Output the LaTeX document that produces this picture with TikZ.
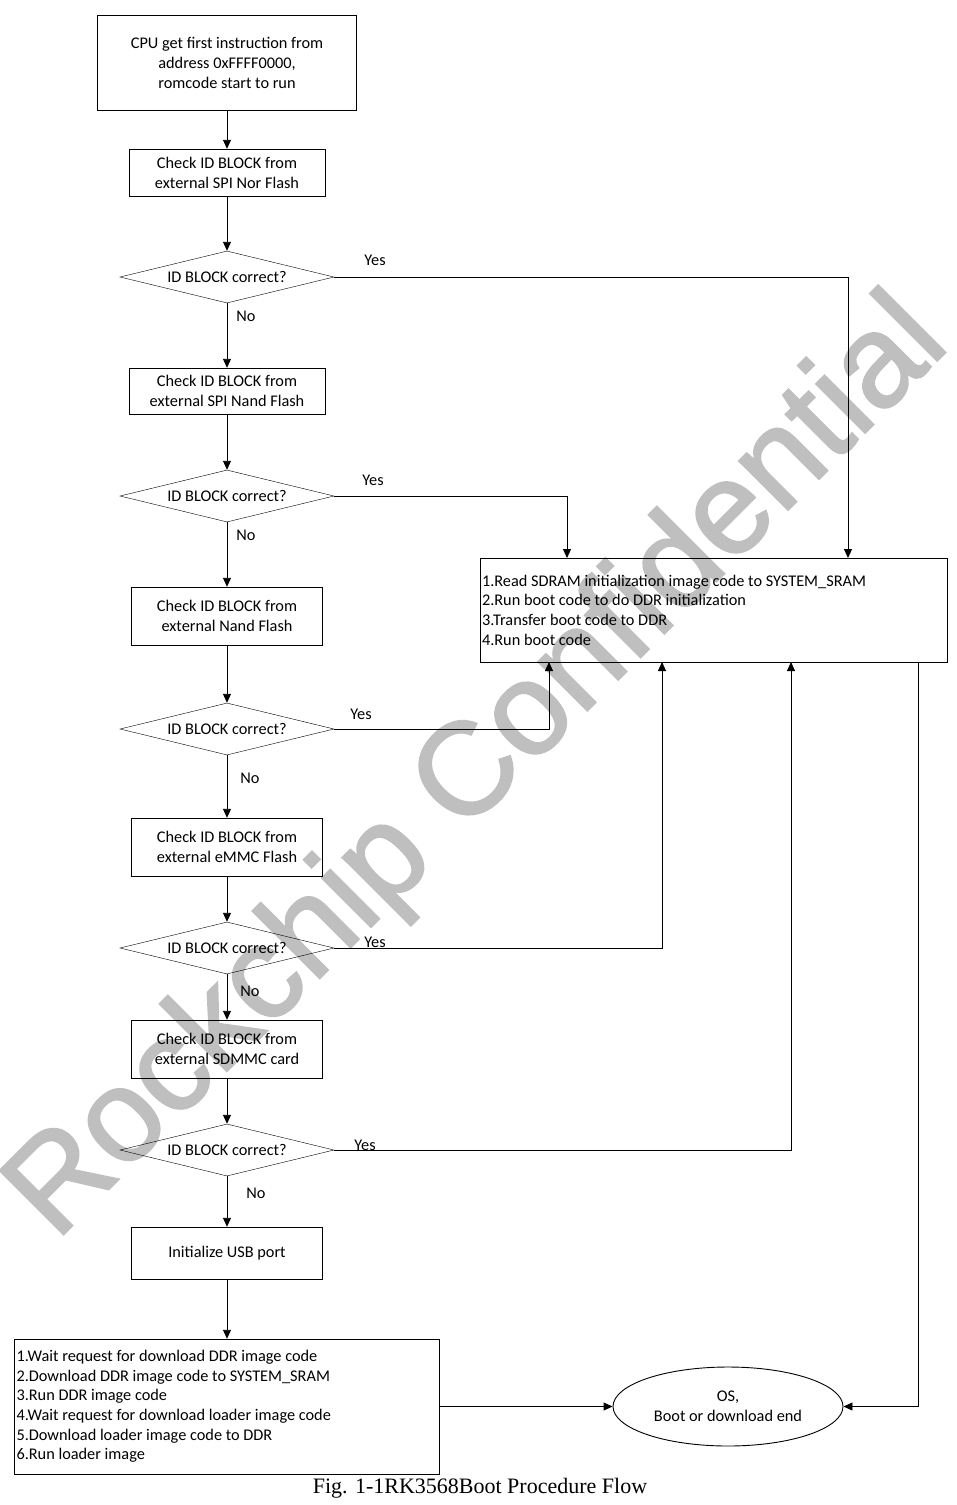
\documentclass[tikz,border=0pt]{standalone}
\usepackage{fontspec}
\setmainfont{Carlito}
\newfontfamily\markfont[FakeBold=1.6]{Liberation Sans}
\newfontfamily\capfont{Liberation Serif}
\usetikzlibrary{shapes.geometric,arrows.meta}

\tikzset{
  stepbox/.style={draw, rectangle, inner sep=0pt, minimum width=191pt, minimum height=58pt,
    align=flush center, font=\fontsize{16.3}{20}\selectfont},
  check/.style={draw, diamond, shape aspect=4, inner sep=0pt, minimum width=214pt,
    minimum height=52pt, font=\fontsize{16.3}{20}\selectfont},
  listbox/.style={draw, rectangle, inner sep=2pt, align=flush left,
    font=\fontsize{16.3}{19.6}\selectfont},
  lbl/.style={font=\fontsize{16.3}{18}\selectfont},
  arr/.style={-{Triangle[length=9pt,width=8pt]}, line width=0.9pt}
}

\begin{document}
\begin{tikzpicture}[x=1pt, y=-1pt]

% Page frame
\useasboundingbox (0,0) rectangle (957,1505);

% Watermark (behind everything)
\node[rotate=45, text=black!25, font=\markfont\fontsize{131}{133}\selectfont] (mark) at (480,770)
  {Rockchip Confidential};

% Start
\node[stepbox, minimum width=259pt, minimum height=95pt] (cpu) at (227,62.5)
  {CPU get first instruction from\\address 0xFFFF0000,\\romcode start to run};

% SPI Nor
\node[stepbox, minimum width=196pt, minimum height=47pt] (nor) at (227,172.5)
  {Check ID BLOCK from\\external SPI Nor Flash};
\node[check] (d1) at (227,277) {ID BLOCK correct?};

% SPI Nand
\node[stepbox, minimum width=196pt, minimum height=46pt] (spinand) at (227,391)
  {Check ID BLOCK from\\external SPI Nand Flash};
\node[check] (d2) at (227,496) {ID BLOCK correct?};

% Nand
\node[stepbox] (nand) at (227,616) {Check ID BLOCK from\\external Nand Flash};
\node[check] (d3) at (227,729) {ID BLOCK correct?};

% eMMC
\node[stepbox] (emmc) at (227,847) {Check ID BLOCK from\\external eMMC Flash};
\node[check] (d4) at (227,948) {ID BLOCK correct?};

% SDMMC
\node[stepbox] (sdmmc) at (227,1049) {Check ID BLOCK from\\external SDMMC card};
\node[check] (d5) at (227,1150) {ID BLOCK correct?};

% USB
\node[stepbox, minimum height=52pt] (usb) at (227,1253) {Initialize USB port};
\node[listbox, text width=421pt, minimum height=135pt] (dl) at (227,1406.5)
  {1.Wait request for download DDR image code\\
   2.Download DDR image code to SYSTEM\_SRAM\\
   3.Run DDR image code\\
   4.Wait request for download loader image code\\
   5.Download loader image code to DDR\\
   6.Run loader image};

% Boot
\node[listbox, text width=463pt, minimum height=104pt] (boot) at (713.5,610)
  {1.Read SDRAM initialization image code to SYSTEM\_SRAM\\
   2.Run boot code to do DDR initialization\\
   3.Transfer boot code to DDR\\
   4.Run boot code};

% End
\node[draw, ellipse, line width=0.9pt, inner sep=0pt, minimum width=230pt, minimum height=79pt,
  align=flush center, font=\fontsize{16.3}{20}\selectfont] (end) at (728,1406.5)
  {OS,\\Boot or download end};

% Main column
\draw[arr] (cpu) -- (nor);
\draw[arr] (nor) -- (d1);
\draw[arr] (d1) -- (spinand);
\draw[arr] (spinand) -- (d2);
\draw[arr] (d2) -- (nand);
\draw[arr] (nand) -- (d3);
\draw[arr] (d3) -- (emmc);
\draw[arr] (emmc) -- (d4);
\draw[arr] (d4) -- (sdmmc);
\draw[arr] (sdmmc) -- (d5);
\draw[arr] (d5) -- (usb);
\draw[arr] (usb) -- (dl);

% No labels
\node[lbl] (n1) at (246,316) {No};
\node[lbl] (n2) at (246,535) {No};
\node[lbl] (n3) at (250,778) {No};
\node[lbl] (n4) at (250,991) {No};
\node[lbl] (n5) at (256,1193) {No};

% Yes branches
\coordinate (y1) at (848,558);
\coordinate (y2) at (567,558);
\coordinate (y3) at (549,662);
\coordinate (y4) at (662,662);
\coordinate (y5) at (791,662);
\draw[arr] (d1.east) -| (y1);
\draw[arr] (d2.east) -| (y2);
\draw[arr] (d3.east) -| (y3);
\draw[arr] (d4.east) -| (y4);
\draw[arr] (d5.east) -| (y5);
\node[lbl] (s1) at (375,260) {Yes};
\node[lbl] (s2) at (373,480) {Yes};
\node[lbl] (s3) at (361,714) {Yes};
\node[lbl] (s4) at (375,942) {Yes};
\node[lbl] (s5) at (365,1145) {Yes};

% To end
\coordinate (b1) at (918,662);
\draw[arr] (b1) |- (end.east);
\draw[arr] (dl.east) -- (end.west);

% Caption
\node[font=\capfont\fontsize{22}{24}\selectfont] (cap) at (480,1488)
  {Fig. 1-1RK3568Boot Procedure Flow};

\end{tikzpicture}
\end{document}
